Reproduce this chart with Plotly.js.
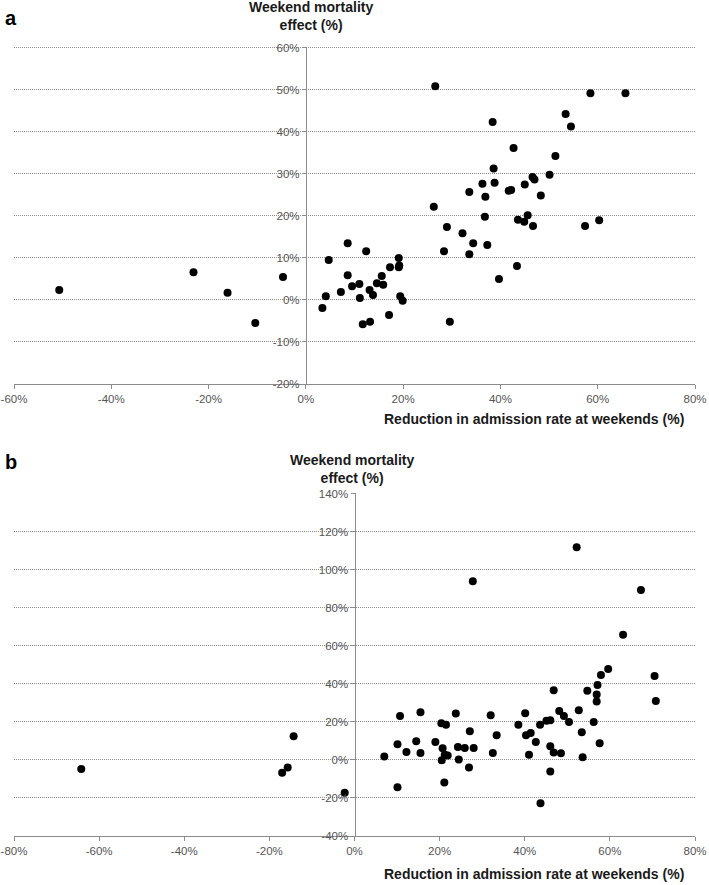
<!DOCTYPE html>
<html>
<head>
<meta charset="utf-8">
<script src="https://cdn.plot.ly/plotly-3.0.1.min.js"></script>
<style>
html,body{margin:0;padding:0;background:#fff;}
#chart{width:709px;height:885px;}
</style>
</head>
<body>
<div id="chart"></div>
<script>
// Panel a: reduction in admission rate at weekends (%) vs weekend mortality effect (%)
const aX = [-50.7,-23.1,-16.1,-10.4,-4.7,3.4,4.1,4.7,7.2,8.6,8.6,9.5,11.0,11.1,11.7,12.4,13.1,13.2,13.8,14.6,15.6,15.9,17.1,17.3,19.1,19.1,19.2,19.4,19.9,
  26.3,28.4,29.0,29.6,32.2,33.6,34.4,36.8,37.3,39.7,43.4,43.6,44.9,45.6,46.7,57.4,60.3,
  26.6,33.6,36.3,36.9,38.4,38.6,38.8,41.7,42.2,42.7,45.0,46.6,47.0,48.3,50.1,51.3,53.4,54.5,58.5,65.7];
const aY = [2.4,6.6,1.7,-5.5,5.5,-1.9,0.9,9.5,1.9,13.5,5.9,3.3,3.8,0.5,-5.8,11.6,2.4,-5.2,1.2,4.0,5.7,3.6,-3.6,7.8,10.0,7.8,8.2,0.9,-0.2,
  22.2,11.6,17.4,-5.2,15.9,10.9,13.5,19.8,13.1,5.0,8.1,19.1,18.6,20.2,17.6,17.6,19.0,
  50.9,25.7,27.7,24.6,42.4,31.3,27.9,26.0,26.2,36.2,27.5,29.3,28.7,24.9,29.8,34.3,44.3,41.3,49.2,49.2];

// Panel b
const bX = [-64.2,-17.0,-15.7,-14.3,-2.3,7.0,10.1,10.1,10.7,12.2,14.5,15.5,15.5,19.0,20.4,20.5,20.7,21.2,21.5,21.1,21.9,
  23.8,24.3,24.5,25.9,26.9,27.1,28.0,32.0,32.5,33.4,38.5,40.1,40.3,41.0,41.4,42.6,43.6,43.7,45.1,46.0,46.0,46.0,46.8,46.8,
  48.1,48.5,49.2,50.4,52.7,53.4,53.6,54.7,56.2,56.9,56.9,57.1,57.6,70.8,
  27.8,52.2,67.3,63.1,59.6,57.9,70.5];
const bY = [-4.7,-6.7,-4.0,12.5,-17.2,1.9,8.3,-14.4,23.2,4.2,9.8,3.7,25.1,9.5,19.3,-0.2,6.2,2.8,18.6,-11.8,2.3,
  24.4,6.9,0.2,6.3,-3.9,15.1,6.3,23.6,3.7,13.0,18.5,24.6,13.0,2.8,14.2,9.5,18.6,-22.7,20.6,20.9,7.2,-6.0,36.7,3.9,
  25.8,3.5,23.2,20.0,26.2,14.6,1.4,36.4,20.0,34.4,30.8,39.5,8.8,31.1,
  94.0,112.0,89.5,65.9,47.9,44.7,44.2];

const aXTicks = [-60,-40,-20,0,20,40,60,80];
const aXLabels = ['-60%','-40%','-20%','0%','20%','40%','60%','80%'];
const aYTicks = [-20,-10,0,10,20,30,40,50,60];
const aYLabels = ['-20%','-10%','0%','10%','20%','30%','40%','50%','60%'];
const bXTicks = [-80,-60,-40,-20,0,20,40,60,80];
const bXLabels = ['-80%','-60%','-40%','-20%','0%','20%','40%','60%','80%'];
const bYTicks = [-40,-20,0,20,40,60,80,100,120,140];
const bYLabels = ['-40%','-20%','0%','20%','40%','60%','80%','100%','120%','140%'];

const W = 709, H = 885;
const xdom = [14/W, 695/W];
// small headroom above the top tick so its gridline is drawn
const aDom = [1-384/H, 1-46.9/H];
const bDom = [1-836/H, 1-493.0/H];

const tickFont = {family:'Liberation Sans, Arial, sans-serif', size:11.5, color:'#555555'};
const titleFont = {family:'"Liberation Sans Narrow", "Arial Narrow", Liberation Sans, Arial, sans-serif', size:14, color:'#1a1a1a'};
const axisColor = '#8c8c8c';

const marker = {color:'#000', size:8, symbol:'circle'};
const traces = [
  {x:aX, y:aY, type:'scatter', mode:'markers', marker:marker, xaxis:'x', yaxis:'y', hoverinfo:'x+y'},
  {x:bX, y:bY, type:'scatter', mode:'markers', marker:marker, xaxis:'x2', yaxis:'y2', hoverinfo:'x+y'}
];

function xAxis(range, vals, labels, anchor){
  return {domain:xdom, range:range, tickmode:'array', tickvals:vals, ticktext:labels,
    showgrid:false, zeroline:false, showline:true, linecolor:axisColor, linewidth:1,
    ticks:'outside', ticklen:4, tickcolor:axisColor, tickfont:tickFont, anchor:anchor, fixedrange:true};
}
function yAxis(range, vals, labels, dom, pos){
  return {domain:dom, range:range, tickmode:'array', tickvals:vals, ticktext:labels,
    showgrid:true, gridcolor:'#8a8a8a', griddash:'1px,1px', gridwidth:1, zeroline:false,
    showline:true, linecolor:axisColor, linewidth:1, ticks:'outside', ticklen:4, tickcolor:axisColor,
    tickfont:tickFont, anchor:'free', position:pos, fixedrange:true};
}

const layout = {
  width:W, height:H, margin:{l:0,r:0,t:0,b:0}, paper_bgcolor:'#fff', plot_bgcolor:'#fff',
  showlegend:false,
  xaxis: xAxis([-60,80], aXTicks, aXLabels, 'y'),
  yaxis: yAxis([-20,60.25], aYTicks, aYLabels, aDom, xdom[0] + (60/140)*(xdom[1]-xdom[0])),
  xaxis2: xAxis([-80,80], bXTicks, bXLabels, 'y2'),
  yaxis2: yAxis([-40,140.5], bYTicks, bYLabels, bDom, xdom[0] + 0.5*(xdom[1]-xdom[0])),
  annotations: [
    {text:'<b>a</b>', xref:'paper', yref:'paper', x:3/W, y:1-18/H, xanchor:'left', yanchor:'middle', showarrow:false,
      font:{family:'Liberation Sans, Arial, sans-serif', size:20, color:'#000'}},
    {text:'<b>b</b>', xref:'paper', yref:'paper', x:3/W, y:1-462/H, xanchor:'left', yanchor:'middle', showarrow:false,
      font:{family:'Liberation Sans, Arial, sans-serif', size:20, color:'#000'}},
    {text:'<b>Weekend mortality<br>effect (%)</b>', xref:'paper', yref:'paper', x:311/W, y:1-16/H, xanchor:'center', yanchor:'middle', showarrow:false, font:titleFont},
    {text:'<b>Weekend mortality<br>effect (%)</b>', xref:'paper', yref:'paper', x:352/W, y:1-469/H, xanchor:'center', yanchor:'middle', showarrow:false, font:titleFont},
    {text:'<b>Reduction in admission rate at weekends (%)</b>', xref:'paper', yref:'paper', x:534/W, y:1-419/H, xanchor:'center', yanchor:'middle', showarrow:false, font:titleFont},
    {text:'<b>Reduction in admission rate at weekends (%)</b>', xref:'paper', yref:'paper', x:534/W, y:1-874/H, xanchor:'center', yanchor:'middle', showarrow:false, font:titleFont}
  ]
};

Plotly.newPlot('chart', traces, layout, {displayModeBar:false, staticPlot:true});
</script>
</body>
</html>
